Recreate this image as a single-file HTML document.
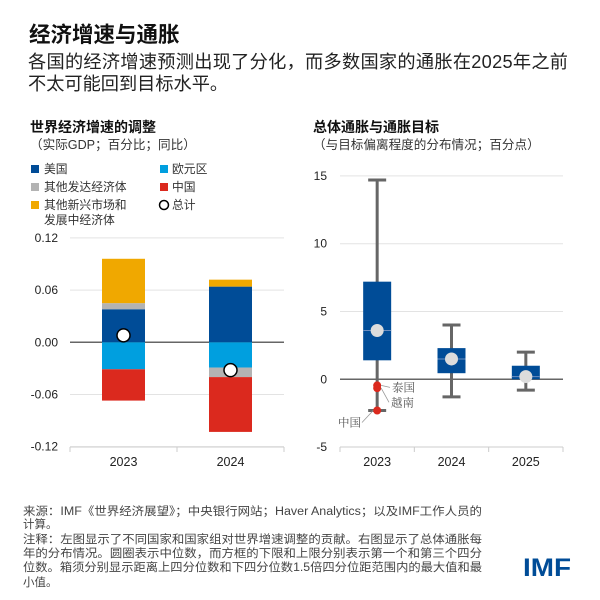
<!DOCTYPE html>
<html><head><meta charset="utf-8"><style>
body{margin:0;background:#fff;}
svg{display:block;font-family:"Liberation Sans","Noto Sans CJK SC",sans-serif;}
</style></head><body>
<svg id="c" width="600" height="600" viewBox="0 0 600 600">
<text x="29" y="42" font-size="21.5" font-weight="bold" fill="#111">经济增速与通胀</text>
<text x="28" y="68" font-size="18.2" fill="#222" textLength="540">各国的经济增速预测出现了分化，而多数国家的通胀在2025年之前</text>
<text x="28" y="90" font-size="18.2" fill="#222">不太可能回到目标水平。</text>

<text x="30" y="132" font-size="14" font-weight="bold" fill="#111">世界经济增速的调整</text>
<text x="30" y="149" font-size="12.6" fill="#333">（实际GDP；百分比；同比）</text>
<g font-size="11.8" fill="#333">
<rect x="31" y="165" width="8" height="8" fill="#004c97"/><text x="44" y="173">美国</text>
<rect x="160" y="165" width="8" height="8" fill="#009fdf"/><text x="172" y="173">欧元区</text>
<rect x="31" y="183" width="8" height="8" fill="#b3b3b3"/><text x="44" y="191">其他发达经济体</text>
<rect x="160" y="183" width="8" height="8" fill="#db291e"/><text x="172" y="191">中国</text>
<rect x="31" y="201" width="8" height="8" fill="#f0a800"/><text x="44" y="209">其他新兴市场和</text>
<text x="44" y="224">发展中经济体</text>
<circle cx="164" cy="205" r="4.5" fill="#fff" stroke="#000" stroke-width="1.5"/><text x="172" y="209">总计</text>
</g>
<g id="left"></g>

<text x="313" y="132" font-size="14" font-weight="bold" fill="#111">总体通胀与通胀目标</text>
<text x="313" y="149" font-size="12.6" fill="#333">（与目标偏离程度的分布情况；百分点）</text>
<g id="right"></g>

<g font-size="11.5" fill="#444">
<text x="23" y="515" textLength="459" lengthAdjust="spacingAndGlyphs">来源：IMF《世界经济展望》；中央银行网站；Haver Analytics；以及IMF工作人员的</text>
<text x="23" y="528">计算。</text>
<text x="23" y="543" textLength="459" lengthAdjust="spacingAndGlyphs">注释：左图显示了不同国家和国家组对世界增速调整的贡献。右图显示了总体通胀每</text>
<text x="23" y="557" textLength="459" lengthAdjust="spacingAndGlyphs">年的分布情况。圆圈表示中位数，而方框的下限和上限分别表示第一个和第三个四分</text>
<text x="23" y="571" textLength="459" lengthAdjust="spacingAndGlyphs">位数。箱须分别显示距离上四分位数和下四分位数1.5倍四分位距范围内的最大值和最</text>
<text x="23" y="586">小值。</text>
</g>
<text x="523" y="576" font-size="25" font-weight="bold" fill="#004c97" textLength="48" lengthAdjust="spacingAndGlyphs">IMF</text>
</svg>
<script>
// Left chart data
const gYears = ["2023","2024"];
const gUS = [0.038, 0.064];
const gEuro = [-0.031, -0.029];
const gOtherAdv = [0.007, -0.011];
const gChina = [-0.036, -0.063];
const gEMDE = [0.051, 0.008];
const gTotal = [0.008, -0.032];
const gTicks = [0.12, 0.06, 0.00, -0.06, -0.12];
const gTickLabels = ["0.12","0.06","0.00","-0.06","-0.12"];
// Right chart data
const iYears = ["2023","2024","2025"];
const iMax = [14.7, 4.0, 2.0];
const iQ3 = [7.2, 2.3, 1.0];
const iMed = [3.6, 1.5, 0.2];
const iQ1 = [1.4, 0.45, 0.0];
const iMin = [-2.3, -1.3, -0.8];
const iPointNames = ["泰国","越南","中国"];
const iPointValues = [-0.45, -0.65, -2.3];
const iTicks = [15, 10, 5, 0, -5];

const NS="http://www.w3.org/2000/svg";
function mk(p,tag,a){const e=document.createElementNS(NS,tag);for(const k in a)e.setAttribute(k,a[k]);p.appendChild(e);return e;}

// LEFT
const L=document.getElementById('left');
const ly=v=>342.3-v*870;
const lx0=70,lx1=284,lBand=(lx1-lx0)/gYears.length,lBw=43;
gTicks.forEach((t,i)=>{
  const g=mk(L,'line',{x1:lx0,x2:lx1,y1:ly(t),y2:ly(t),stroke:t===0?'#666':'#e3e3e3','stroke-width':t===0?1.5:1});
  
  
  const tx=mk(L,'text',{x:58,y:ly(t)+4,'text-anchor':'end','font-size':12,fill:'#222'});
  tx.textContent=gTickLabels[i];
  
  
});
gYears.forEach((yr,i)=>{
  const cx=lx0+lBand*(i+0.5), x=cx-lBw/2;
  const segs=[[gUS[i],'#004c97','us'],[gEuro[i],'#009fdf','euro'],[gOtherAdv[i],'#b3b3b3','other-adv'],[gChina[i],'#db291e','china'],[gEMDE[i],'#f0a800','emde']];
  let pos=0,neg=0;
  segs.forEach(s=>{
    const v=s[0];let a,b;
    if(v>=0){a=pos;b=pos+v;pos=b;}else{a=neg;b=neg+v;neg=b;}
    const r=mk(L,'rect',{x:x,width:lBw,y:Math.min(ly(a),ly(b)),height:Math.abs(ly(a)-ly(b)),fill:s[1]});
    
    
  });
  const c=mk(L,'circle',{cx:cx,cy:ly(gTotal[i]),r:6.5,fill:'#fff',stroke:'#000','stroke-width':1.5});
  
  
  const t=mk(L,'text',{x:cx,y:466,'text-anchor':'middle','font-size':12.5,fill:'#222'});
  t.textContent=yr;
  
  
});
mk(L,'line',{x1:lx0,x2:lx1,y1:447,y2:447,stroke:'#ccc'});
[lx0,lx0+lBand,lx1].forEach(x=>mk(L,'line',{x1:x,x2:x,y1:447,y2:452,stroke:'#ccc'}));

// RIGHT
const R=document.getElementById('right');
const ry=v=>379.3-v*13.56;
const rx0=340,rx1=563,rBand=(rx1-rx0)/iYears.length,rBw=28;
iTicks.forEach(t=>{
  const g=mk(R,'line',{x1:rx0,x2:rx1,y1:ry(t),y2:ry(t),stroke:t===0?'#666':(t===-5?'none':'#e3e3e3'),'stroke-width':t===0?1.5:1});
  
  
  const tx=mk(R,'text',{x:327,y:ry(t)+4,'text-anchor':'end','font-size':12,fill:'#222'});
  tx.textContent=String(t);
  
  
});
iYears.forEach((yr,i)=>{
  const cx=rx0+rBand*(i+0.5);
  const w=mk(R,'line',{x1:cx,x2:cx,y1:ry(iMax[i]),y2:ry(iMin[i]),stroke:'#666','stroke-width':3});
  
  
  [iMax[i],iMin[i]].forEach(v=>{const cap=mk(R,'line',{x1:cx-9,x2:cx+9,y1:ry(v),y2:ry(v),stroke:'#666','stroke-width':3});
    
    });
  const b=mk(R,'rect',{x:cx-rBw/2,width:rBw,y:ry(iQ3[i]),height:ry(iQ1[i])-ry(iQ3[i]),fill:'#004c97'});
  
  
  mk(R,'line',{x1:cx-rBw/2,x2:cx+rBw/2,y1:ry(iMed[i]),y2:ry(iMed[i]),stroke:'#6d8fc0','stroke-width':1});
  const m=mk(R,'circle',{cx:cx,cy:ry(iMed[i]),r:6.5,fill:'#dcdcdc'});
  
  
  const t=mk(R,'text',{x:cx,y:466,'text-anchor':'middle','font-size':12.5,fill:'#222'});
  t.textContent=yr;
  
  
});
mk(R,'line',{x1:rx0,x2:rx1,y1:447,y2:447,stroke:'#ccc'});
[0,1,2,3].forEach(k=>{const x=rx0+rBand*k;mk(R,'line',{x1:x,x2:x,y1:447,y2:452,stroke:'#ccc'});});
const pcx=rx0+rBand*0.5;
const lblPos=[[392,1,6],[391,1,26],[338,-1,16]];
iPointValues.forEach((v,i)=>{
  const py=ry(v);
  const p=mk(R,'circle',{cx:pcx,cy:py,r:4,fill:'#db291e'});
  
  
  const lp=lblPos[i];
  const lyy=py+lp[2]*(i===1?0.7:1);
  mk(R,'line',{x1:pcx+lp[1]*4,y1:py,x2:lp[1]>0?lp[0]-2:lp[0]+24,y2:lyy-4,stroke:'#999','stroke-width':0.8});
  const t=mk(R,'text',{x:lp[0],y:lyy,'font-size':11.5,fill:'#555','font-family':'"Liberation Serif","Noto Serif CJK SC",serif'});
  t.textContent=iPointNames[i];
  
  
});
</script>
</body></html>
